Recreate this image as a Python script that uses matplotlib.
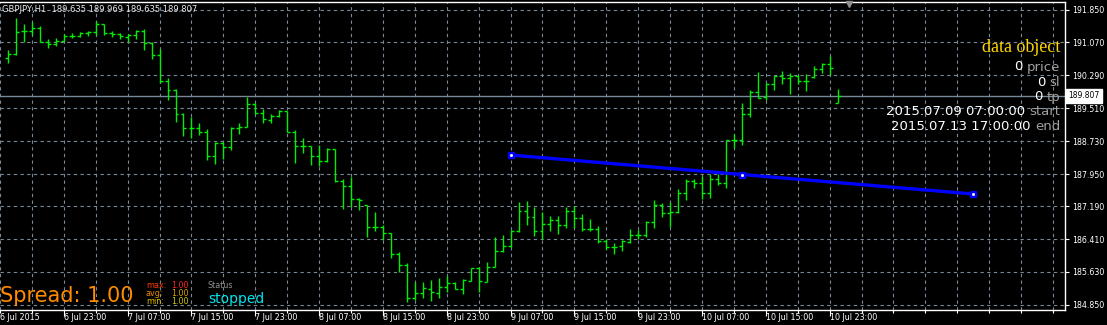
import matplotlib.pyplot as plt

symbol = "GBPJPY"
period = "H1"

# H1 bars, 6 Jul 16:00 .. 13 Jul 00:00
opens = [190.693, 190.787, 191.348, 191.348, 191.403, 191.088, 191.024, 191.111, 191.222, 191.222,
         191.285, 191.309, 191.498, 191.301, 191.261, 191.206, 191.246, 191.340, 191.048, 190.771,
         190.163, 189.942, 189.373, 189.034, 189.034, 188.955, 188.386, 188.678, 188.583, 189.034,
         189.057, 189.602, 189.405, 189.231, 189.326, 189.444, 188.955, 188.615, 188.615, 188.378,
         188.259, 188.536, 187.786, 187.668, 187.352, 187.217, 186.688, 186.688, 186.562, 186.056,
         185.796, 185.021, 185.124, 185.219, 185.124, 185.266, 185.377, 185.219, 185.424, 185.716,
         185.400, 185.756, 186.119, 186.254, 186.594, 187.083, 186.925, 186.594, 186.759, 186.862,
         186.743, 187.075, 186.901, 186.641, 186.641, 186.372, 186.214, 186.246, 186.349, 186.507,
         186.507, 186.822, 187.218, 187.036, 187.044, 187.493, 187.785, 187.730, 187.493, 187.825,
         187.730, 188.757, 188.757, 189.373, 189.887, 189.768, 190.076, 190.274, 190.219, 190.282,
         190.155, 190.258, 190.432, 190.550, 189.635]
highs = [190.890, 191.641, 191.506, 191.561, 191.459, 191.143, 191.167, 191.269, 191.285, 191.309,
         191.340, 191.585, 191.498, 191.340, 191.285, 191.261, 191.364, 191.380, 191.072, 190.906,
         190.218, 189.958, 189.405, 189.310, 189.152, 189.010, 188.718, 188.710, 189.057, 189.152,
         189.784, 189.626, 189.500, 189.365, 189.468, 189.452, 188.994, 188.797, 188.615, 188.631,
         188.560, 188.544, 187.826, 187.889, 187.391, 187.217, 187.044, 186.743, 186.562, 186.104,
         185.835, 185.393, 185.393, 185.440, 185.480, 185.535, 185.401, 185.456, 185.724, 185.756,
         185.859, 186.451, 186.507, 186.625, 187.289, 187.312, 187.162, 187.052, 186.965, 186.957,
         187.162, 187.194, 187.004, 186.878, 186.720, 186.404, 186.309, 186.388, 186.649, 186.625,
         186.846, 187.336, 187.257, 187.297, 187.597, 187.825, 187.833, 187.904, 187.951, 187.943,
         188.757, 188.891, 189.626, 189.942, 190.361, 190.100, 190.282, 190.392, 190.337, 190.298,
         190.321, 190.511, 190.574, 190.748, 189.969]
lows = [190.574, 190.771, 191.080, 191.246, 191.072, 190.930, 190.993, 191.111, 191.167, 191.190,
        191.230, 191.246, 191.246, 191.190, 191.143, 191.072, 191.143, 190.890, 190.677, 190.100,
        189.705, 189.192, 188.852, 188.812, 188.875, 188.283, 188.188, 188.315, 188.520, 188.899,
        189.057, 189.373, 189.152, 189.168, 189.294, 188.955, 188.220, 188.457, 188.164, 188.141,
        188.244, 187.771, 187.115, 187.162, 187.099, 186.451, 186.609, 186.388, 185.954, 185.637,
        184.927, 184.966, 185.006, 184.950, 185.006, 185.164, 185.219, 185.100, 185.416, 185.148,
        185.385, 185.740, 186.111, 186.230, 186.586, 186.743, 186.483, 186.420, 186.601, 186.522,
        186.665, 186.680, 186.594, 186.601, 186.309, 186.167, 186.048, 186.127, 186.309, 186.404,
        186.467, 186.680, 186.941, 186.704, 187.020, 187.335, 187.627, 187.359, 187.375, 187.690,
        187.612, 188.560, 188.639, 189.310, 189.745, 189.705, 189.942, 190.076, 189.839, 190.076,
        189.918, 190.234, 190.353, 190.297, 189.635]
closes = [190.795, 191.324, 191.348, 191.403, 191.088, 191.024, 191.111, 191.222, 191.222, 191.285,
          191.309, 191.498, 191.301, 191.261, 191.222, 191.246, 191.340, 191.048, 190.771, 190.163,
          189.942, 189.373, 189.034, 189.034, 188.955, 188.386, 188.678, 188.583, 189.034, 189.057,
          189.602, 189.405, 189.247, 189.326, 189.444, 188.955, 188.615, 188.615, 188.378, 188.259,
          188.536, 187.786, 187.668, 187.352, 187.336, 186.688, 186.688, 186.562, 186.056, 185.796,
          185.021, 185.124, 185.243, 185.164, 185.266, 185.377, 185.219, 185.440, 185.716, 185.416,
          185.756, 186.119, 186.254, 186.609, 187.083, 186.925, 186.594, 186.759, 186.862, 186.743,
          187.075, 186.901, 186.641, 186.641, 186.372, 186.214, 186.214, 186.372, 186.507, 186.507,
          186.822, 187.218, 187.036, 187.060, 187.494, 187.785, 187.730, 187.493, 187.825, 187.730,
          188.757, 188.757, 189.373, 189.887, 189.760, 190.076, 190.274, 190.219, 190.282, 190.155,
          190.155, 190.432, 190.550, 190.456, 189.807]

time_labels = ["6 Jul 2015", "6 Jul 23:00", "7 Jul 07:00", "7 Jul 15:00", "7 Jul 23:00",
               "8 Jul 07:00", "8 Jul 15:00", "8 Jul 23:00", "9 Jul 07:00", "9 Jul 15:00",
               "9 Jul 23:00", "10 Jul 07:00", "10 Jul 15:00", "10 Jul 23:00"]
time_label_bars = [-1, 7, 15, 23, 31, 39, 47, 55, 63, 71, 79, 87, 95, 103]

price_ticks = [184.850, 185.630, 186.410, 187.190, 187.950, 188.730,
               189.510, 190.290, 191.070, 191.850]

trend_bars = [63, 121]
trend_prices = [188.402, 187.478]

spread = 1.00
spread_max = 1.00
spread_avg = 1.00
spread_min = 1.00
status = "stopped"

obj_rows = [("0", "price"), ("0", "sl"), ("0", "tp"),
            ("2015.07.09 07:00:00", "start"), ("2015.07.13 17:00:00", "end")]

W, H = 1107, 325
bar_color = '#00ee00'
grid_color = '#778899'

fig = plt.figure(figsize=(W / 100, H / 100), dpi=100, facecolor='black')
ax = fig.add_axes([0, 15 / H, 1065 / W, 308 / H], facecolor='black')
ax.set_xlim(-0.625, 132.5)
ax.set_ylim(184.729, 192.028)


def px(x, y):
    return x / W, 1 - y / H


def ftext(x, y, s, **kw):
    return ax.text(*px(x, y), s, transform=fig.transFigure, **kw)


# bars
xs = list(range(len(opens)))
ax.vlines(xs, lows, highs, color=bar_color, lw=1, zorder=2)
ax.hlines(opens, [i - 0.37 for i in xs], xs, color=bar_color, lw=1, zorder=2)
ax.hlines(closes, xs, [i + 0.37 for i in xs], color=bar_color, lw=1, zorder=2)

# bid line
ax.axhline(closes[-1], color=grid_color, lw=1, zorder=1)
ax.annotate(f"{closes[-1]:.3f}", xy=(1, closes[-1]), xycoords=('axes fraction', 'data'),
            xytext=(2.5, 0), textcoords='offset points', ha='left', va='center',
            fontsize=5.5, color='black', annotation_clip=False,
            bbox=dict(boxstyle='square,pad=0.3', fc='white', ec='white'))

# trend line
ax.plot(trend_bars, trend_prices, color='#0000ff', lw=2.4, solid_capstyle='butt', zorder=4)
pts_x = [trend_bars[0], sum(trend_bars) / 2, trend_bars[1]]
pts_y = [trend_prices[0], sum(trend_prices) / 2, trend_prices[1]]
ax.plot(pts_x, pts_y, 's', color='#0000ff', ms=5, zorder=5)
ax.plot(pts_x, pts_y, 's', color='white', ms=1, zorder=6)

# axes, ticks, grid
ax.set_axisbelow(True)
label_ticks = [b for b in time_label_bars if b >= 0]
ax.set_xticks(label_ticks)
ax.set_xticklabels([])
ax.set_xticks(list(range(-1, 133, 4)), minor=True)
ax.yaxis.tick_right()
ax.set_yticks(price_ticks)
ax.set_yticklabels([f"{p:.3f}" for p in price_ticks])
ax.tick_params(axis='y', colors='white', labelsize=5.7, length=3, width=0.8, pad=2)
ax.tick_params(axis='x', which='major', colors='white', length=4, width=0.8)
ax.tick_params(axis='x', which='minor', colors='white', length=2, width=0.8)
ax.grid(True, which='both', color=grid_color, ls=(0, (3, 3)), lw=0.8)
for side in ['top', 'right', 'bottom']:
    ax.spines[side].set_color('white')
    ax.spines[side].set_linewidth(1)
ax.spines['left'].set_visible(False)

for b, lbl in zip(time_label_bars, time_labels):
    ax.text(b, -8 / 308, lbl, transform=ax.get_xaxis_transform(), ha='left', va='center',
            fontsize=5.8, color='white', clip_on=False)

# chart shift marker
ax.plot([105.4], [191.98], marker='v', color='#909090', ms=4, clip_on=False, zorder=5)

# header
ftext(2, 10, f"{symbol},{period}  {opens[-1]:.3f} {highs[-1]:.3f} {lows[-1]:.3f} {closes[-1]:.3f}",
      color='#e8e8e8', fontsize=6, va='center', ha='left')

# data object block
ftext(1060, 48, "data object", family='Liberation Serif', fontsize=13,
      color='#ffd700', ha='right', va='center')
for i, (num, name) in enumerate(obj_rows):
    t = ftext(1060, 67 + 15 * i, name, color='#a0a0a0', fontsize=9.5,
              ha='right', va='center')
    ax.annotate(num, xy=(0, 0), xycoords=t, xytext=(-3, 0), textcoords='offset points',
                ha='right', va='bottom', color='white', fontsize=9.5, zorder=5)

# spread panel
ftext(0, 302, f"Spread: {spread:.2f}", color='#ff8c00', fontsize=15, ha='left', va='baseline')
for j, (name, val, c1, c2) in enumerate([("max:", spread_max, '#ff3c00', '#ff2020'),
                                         ("avg:", spread_avg, '#e88a00', '#d4a000'),
                                         ("min:", spread_min, '#e0c000', '#c8c800')]):
    ftext(146, 285.5 + 8 * j, name, color=c1, fontsize=5.8, va='center')
    ftext(171, 285.5 + 8 * j, f"{val:.2f}", color=c2, fontsize=5.8, va='center')
ftext(208, 285, "Status", color='#909090', fontsize=5.8, va='center')
ftext(208, 299, status, color='#00e5ee', fontsize=10, va='center')

fig.savefig('out.png', dpi=100, facecolor='black')
